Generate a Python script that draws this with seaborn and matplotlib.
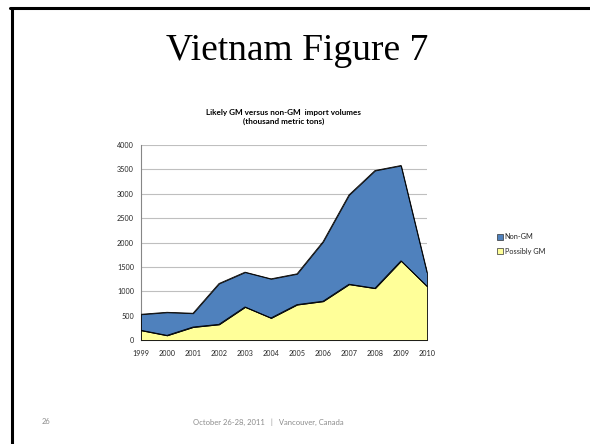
import matplotlib
matplotlib.use("Agg")
import matplotlib.pyplot as plt
import matplotlib.patches as mpatches
import numpy as np
import pandas as pd
import seaborn as sns

# Vietnam import volumes (thousand metric tons)
years = [1999, 2000, 2001, 2002, 2003, 2004, 2005, 2006, 2007, 2008, 2009, 2010]
possibly_gm = [200, 96, 267, 322, 679, 453, 727, 796, 1145, 1063, 1625, 1104]
non_gm = [328, 473, 282, 837, 713, 802, 631, 1220, 1832, 2414, 1955, 281]
series_names = ["Non-GM", "Possibly GM"]
y_ticks = [0, 500, 1000, 1500, 2000, 2500, 3000, 3500, 4000]

df = pd.DataFrame({"year": years, "Possibly GM": possibly_gm, "Non-GM": non_gm})
df["total"] = df["Possibly GM"] + df["Non-GM"]

sns.set_theme(style="white")
plt.rcParams["font.family"] = ["Lato", "DejaVu Sans"]

BLUE = "#4F81BD"
YELLOW = "#FFFF99"

fig = plt.figure(figsize=(5.9, 4.44), dpi=100)
fig.patch.set_facecolor("white")

ax = fig.add_axes([0.239, 0.2342, 0.4847, 0.4392])
ax.stackplot(df["year"], df["Possibly GM"], df["Non-GM"],
             colors=[YELLOW, BLUE], edgecolor="black", linewidth=0.6, zorder=3)
sns.lineplot(data=df, x="year", y="total", color="black", linewidth=0.6, ax=ax, zorder=4)
sns.lineplot(data=df, x="year", y="Possibly GM", color="black", linewidth=0.6, ax=ax, zorder=4)
# right-hand closing edge of the stacked areas
ax.plot([years[-1], years[-1]], [0, df["total"].iloc[-1]], color="black", lw=0.6, zorder=4)

ax.set_xlim(years[0], years[-1])
ax.set_ylim(0, 4000)
ax.set_xticks(years)
ax.set_xticklabels([str(y) for y in years])
ax.set_yticks(y_ticks)
ax.set_yticklabels([str(v) for v in y_ticks])
ax.set_xlabel("")
ax.set_ylabel("")
ax.grid(axis="y", color="#BFBFBF", linewidth=0.8, zorder=0)
ax.set_axisbelow(True)
for side in ["top", "right"]:
    ax.spines[side].set_visible(False)
for side in ["left", "bottom"]:
    ax.spines[side].set_color("#868686")
    ax.spines[side].set_linewidth(0.8)
ax.tick_params(axis="both", labelsize=5.2, colors="#868686", labelcolor="#262626",
               length=3, width=0.8, direction="out", pad=2)
ax.tick_params(axis="x", pad=4)

# chart title block
fig.text(0.5034, 0.886, "Vietnam Figure 7", ha="center", va="center",
         family=["Liberation Serif", "DejaVu Serif"], fontsize=27, color="black")
fig.text(0.48, 0.7365, "Likely GM versus non-GM  import volumes\n(thousand metric tons)",
         ha="center", va="center", fontsize=5.9, fontweight="bold",
         linespacing=1.2, color="black")

# legend
handles = [mpatches.Patch(facecolor=BLUE, edgecolor="#333333", linewidth=0.5),
           mpatches.Patch(facecolor=YELLOW, edgecolor="#333333", linewidth=0.5)]
fig.legend(handles, series_names, loc="center left", bbox_to_anchor=(0.836, 0.4505),
           frameon=False, fontsize=5.3, handlelength=0.8, handleheight=0.8,
           handletextpad=0.25, labelspacing=1.0, borderpad=0)

# footer
fig.text(0.078, 0.05, "26", ha="center", va="center", fontsize=5.4, color="#8c8c8c")
fig.text(0.455, 0.05, "October 26-28, 2011   |   Vancouver, Canada",
         ha="center", va="center", fontsize=5.5, color="#8c8c8c")

# slide frame lines
fig.add_artist(plt.Line2D([10 / 590, 1.0], [1 - 8.5 / 444, 1 - 8.5 / 444],
                          transform=fig.transFigure, color="black", lw=2.2))
fig.add_artist(plt.Line2D([11.5 / 590, 11.5 / 590], [0, 1 - 8.5 / 444],
                          transform=fig.transFigure, color="black", lw=2.2))

fig.savefig("out.png", dpi=100)
